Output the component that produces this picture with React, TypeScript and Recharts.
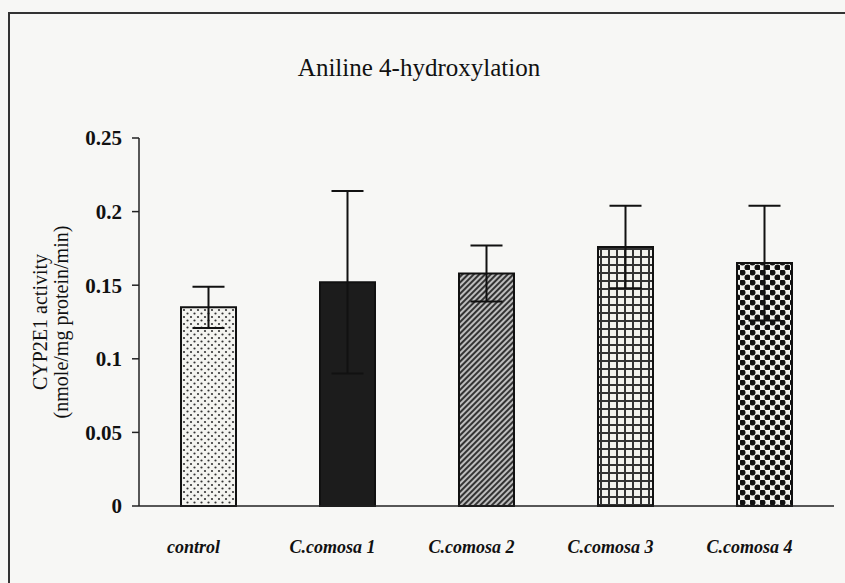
import { BarChart, Bar, XAxis, YAxis, ErrorBar, Cell } from 'recharts';

const groups = ['control', 'C.comosa 1', 'C.comosa 2', 'C.comosa 3', 'C.comosa 4'];
const activity = [0.135, 0.152, 0.158, 0.176, 0.165];
const sd = [0.014, 0.062, 0.019, 0.028, 0.039];
const yTicks = [0, 0.05, 0.1, 0.15, 0.2, 0.25];
const patterns = ['dots', 'solid', 'diag', 'grid', 'check'];

const data = groups.map((g, i) => ({ name: g, value: activity[i], err: sd[i] }));

const serif = '"Liberation Serif", "Times New Roman", serif';

const YLabel = (props: any) => {
  const { viewBox } = props;
  const cy = viewBox.y + viewBox.height / 2;
  return (
    <g fontFamily={serif} fontSize={20} fill="#111">
      <text x={47} y={cy} transform={`rotate(-90 47 ${cy})`} textAnchor="middle">
        CYP2E1 activity
      </text>
      <text x={68} y={cy} transform={`rotate(-90 68 ${cy})`} textAnchor="middle">
        (nmole/mg protein/min)
      </text>
    </g>
  );
};

export default function App() {
  return (
    <div style={{ position: 'absolute', left: 0, top: 0, width: 845, height: 583, background: '#f7f7f5', overflow: 'hidden' }}>
      <div style={{ position: 'absolute', left: 8, top: 12, width: 850, height: 600, border: '2px solid #333', boxSizing: 'border-box' }} />
      <div style={{ position: 'absolute', left: 0, top: 54, width: 838, textAlign: 'center', fontFamily: serif, fontSize: 25, color: '#111' }}>
        Aniline 4-hydroxylation
      </div>
      <div style={{ position: 'absolute', left: 0, top: 0 }}>
        <BarChart width={845} height={583} data={data} margin={{ top: 138, right: 11, left: 0, bottom: 37 }} barCategoryGap={42}>
          <defs>
            <pattern id="dots" width="7" height="7" patternUnits="userSpaceOnUse">
              <rect width="7" height="7" fill="#f4f4f0" />
              <circle cx="2" cy="2" r="1.1" fill="#333" />
              <circle cx="5.5" cy="5.5" r="1.1" fill="#333" />
            </pattern>
            <pattern id="solid" width="4" height="4" patternUnits="userSpaceOnUse">
              <rect width="4" height="4" fill="#1c1c1c" />
            </pattern>
            <pattern id="diag" width="4" height="4" patternUnits="userSpaceOnUse" patternTransform="rotate(45)">
              <rect width="4" height="4" fill="#bdbdbd" />
              <rect width="2" height="4" fill="#333" />
            </pattern>
            <pattern id="grid" width="8" height="8" patternUnits="userSpaceOnUse">
              <rect width="8" height="8" fill="#f2f2ee" />
              <rect width="8" height="2" fill="#333" />
              <rect width="2" height="8" fill="#333" />
            </pattern>
            <pattern id="check" width="10" height="10" patternUnits="userSpaceOnUse">
              <rect width="10" height="10" fill="#f2f2ee" />
              <circle cx="2.5" cy="2.5" r="3" fill="#111" />
              <circle cx="7.5" cy="7.5" r="3" fill="#111" />
            </pattern>
          </defs>
          <XAxis
            dataKey="name"
            height={40}
            tickLine={false}
            axisLine={{ stroke: '#222', strokeWidth: 1.5 }}
            tick={{ fontFamily: serif, fontSize: 18, fontWeight: 'bold', fontStyle: 'italic', fill: '#111', dx: -15 }}
            tickMargin={28}
            interval={0}
          />
          <YAxis
            width={139}
            domain={[0, 0.25]}
            ticks={yTicks}
            tickSize={7}
            tickLine={{ stroke: '#222', strokeWidth: 1.5 }}
            axisLine={{ stroke: '#222', strokeWidth: 1.5 }}
            tick={{ fontFamily: serif, fontSize: 21, fontWeight: 'bold', fill: '#111' }}
            tickMargin={10}
            label={<YLabel />}
          />
          <Bar dataKey="value" stroke="#111" strokeWidth={2} isAnimationActive={false}>
            {data.map((d, i) => (
              <Cell key={d.name} fill={`url(#${patterns[i]})`} />
            ))}
            <ErrorBar dataKey="err" width={16} stroke="#111" strokeWidth={2} direction="y" />
          </Bar>
        </BarChart>
      </div>
    </div>
  );
}
